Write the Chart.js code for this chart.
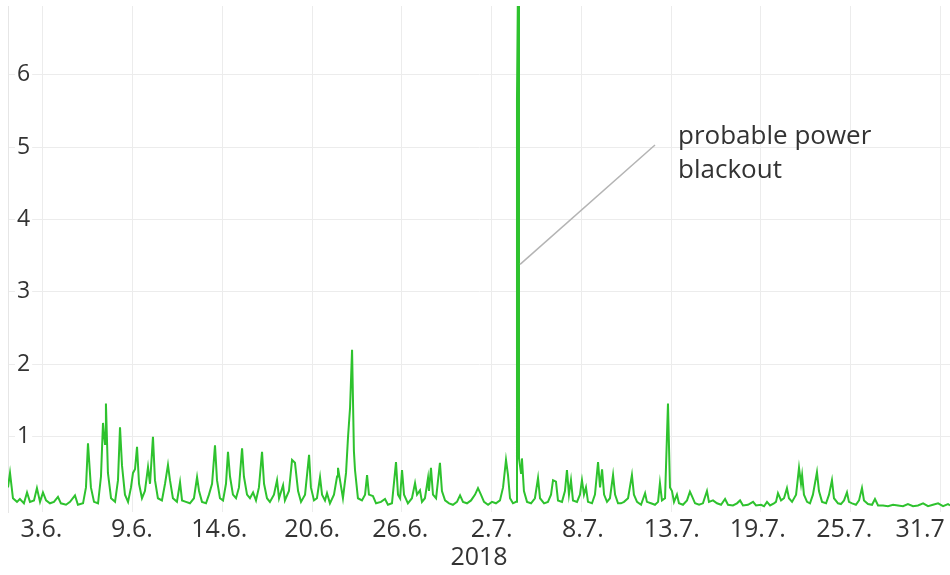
<!DOCTYPE html>
<html>
<head>
<meta charset="utf-8">
<script src="https://cdn.jsdelivr.net/npm/chart.js@4.4.1/dist/chart.umd.min.js"></script>
<style>
html,body{margin:0;padding:0;background:#ffffff;}
#wrap{width:950px;height:575px;}
</style>
</head>
<body>
<div id="wrap"><canvas id="c" width="950" height="575"></canvas></div>
<script>
// x = days since 1.6.2018 00:00, y = measured value
const days = [
  0.04,0.17,0.36,0.62,0.81,1.07,1.27,1.46,1.72,1.91,2.11,2.30,2.50,2.75,3.01,3.27,3.46,3.79,4.05,4.37,4.56,4.89,5.08,5.21,5.40,5.60,5.86,6.05,6.18,6.31,6.37,6.50,6.70,6.96,7.15,7.28,7.41,7.60,7.80,7.99,8.12,8.25,8.38,8.51,8.70,8.89,9.09,9.22,9.41,9.54,9.73,
  9.99,10.19,10.38,10.51,10.70,10.96,11.16,11.29,11.54,11.80,12.06,12.26,12.39,12.58,12.84,13.03,13.23,13.42,13.55,13.74,13.94,14.13,14.26,14.39,14.58,14.78,14.97,15.17,15.29,15.49,15.68,15.88,16.07,16.26,16.46,16.59,16.78,16.97,17.23,17.43,17.56,17.82,17.94,18.20,18.40,18.59,18.79,18.98,19.24,19.50,19.62,19.82,
  20.01,20.21,20.34,20.53,20.66,20.85,21.11,21.31,21.37,21.50,21.69,21.89,22.02,22.15,22.28,22.40,22.47,22.66,22.92,23.12,23.25,23.37,23.63,23.83,24.15,24.41,24.60,24.86,25.12,25.25,25.38,25.51,25.64,25.89,26.15,26.35,26.48,26.67,26.80,26.99,27.19,27.25,27.38,27.51,27.71,27.96,28.09,28.29,28.55,28.80,29.06,29.26,29.45,29.71,
  29.97,30.23,30.42,30.61,30.81,31.07,31.32,31.58,31.84,32.04,32.23,32.36,32.49,32.68,32.88,32.94,33.01,33.07,33.20,33.26,33.39,33.59,33.85,34.10,34.30,34.43,34.69,34.94,35.14,35.27,35.46,35.59,35.85,36.04,36.17,36.30,36.43,36.56,36.82,37.01,37.14,37.27,37.40,37.53,37.79,37.98,38.18,38.31,38.44,38.57,38.76,38.95,39.15,39.28,39.47,39.66,
  39.86,40.12,40.37,40.50,40.70,40.96,41.22,41.34,41.60,41.86,42.06,42.18,42.31,42.51,42.70,42.83,42.96,43.09,43.28,43.41,43.67,43.93,44.12,44.25,44.45,44.71,44.96,45.22,45.35,45.61,45.87,46.13,46.39,46.58,46.90,47.16,47.36,47.55,47.87,48.20,48.39,48.71,48.91,49.10,49.30,49.55,49.68,49.81,50.01,
  50.20,50.39,50.52,50.72,50.98,51.17,51.30,51.37,51.49,51.69,51.88,52.07,52.33,52.46,52.66,52.92,53.11,53.30,53.43,53.69,53.88,54.08,54.27,54.40,54.60,54.85,55.05,55.24,55.37,55.63,55.89,56.08,56.28,56.60,56.92,57.25,57.57,57.89,58.21,58.54,58.86,59.19,59.51,59.83,60.16,60.48,60.80,60.93
];
const values = [
  0.30,0.50,0.15,0.10,0.14,0.08,0.23,0.10,0.12,0.29,0.10,0.23,0.12,0.08,0.10,0.17,0.08,0.06,0.10,0.19,0.06,0.08,0.30,0.91,0.30,0.10,0.08,0.45,1.19,0.90,1.46,0.50,0.15,0.10,0.40,1.13,0.60,0.20,0.10,0.30,0.50,0.55,0.86,0.35,0.15,0.25,0.58,0.35,1.00,0.40,0.15,
  0.12,0.35,0.61,0.40,0.15,0.10,0.37,0.12,0.10,0.08,0.15,0.44,0.25,0.10,0.08,0.20,0.35,0.88,0.40,0.15,0.12,0.35,0.79,0.45,0.20,0.15,0.30,0.84,0.45,0.20,0.15,0.23,0.12,0.30,0.79,0.35,0.15,0.10,0.20,0.40,0.15,0.33,0.12,0.25,0.68,0.64,0.25,0.10,0.20,0.75,0.30,0.12,
  0.15,0.44,0.20,0.12,0.22,0.08,0.20,0.45,0.57,0.40,0.15,0.50,1.00,1.40,2.20,0.80,0.54,0.15,0.12,0.20,0.47,0.20,0.18,0.08,0.10,0.14,0.06,0.08,0.65,0.20,0.15,0.54,0.20,0.08,0.15,0.36,0.20,0.26,0.10,0.15,0.43,0.25,0.57,0.20,0.15,0.64,0.25,0.12,0.08,0.06,0.10,0.19,0.10,0.08,
  0.12,0.20,0.29,0.20,0.10,0.06,0.10,0.08,0.12,0.30,0.68,0.47,0.15,0.08,0.10,5.65,7.40,0.70,0.50,0.70,0.25,0.10,0.08,0.15,0.43,0.15,0.08,0.10,0.20,0.40,0.38,0.12,0.10,0.25,0.54,0.20,0.40,0.12,0.10,0.20,0.40,0.20,0.30,0.10,0.08,0.20,0.65,0.30,0.55,0.20,0.10,0.15,0.47,0.20,0.08,0.08,
  0.10,0.15,0.47,0.20,0.10,0.06,0.22,0.10,0.08,0.06,0.10,0.36,0.12,0.15,1.46,0.30,0.25,0.10,0.20,0.08,0.06,0.12,0.24,0.18,0.08,0.06,0.08,0.25,0.10,0.12,0.08,0.06,0.14,0.06,0.05,0.08,0.12,0.05,0.06,0.10,0.05,0.06,0.04,0.10,0.05,0.08,0.10,0.22,0.12,
  0.15,0.29,0.15,0.10,0.20,0.57,0.35,0.47,0.20,0.10,0.08,0.20,0.51,0.25,0.10,0.08,0.20,0.40,0.15,0.08,0.07,0.12,0.23,0.10,0.08,0.06,0.12,0.29,0.12,0.07,0.06,0.14,0.05,0.05,0.04,0.06,0.05,0.04,0.07,0.04,0.05,0.08,0.04,0.06,0.08,0.04,0.07,0.05
];
// axis range (days) and ticks
const xRange = [0.04, 60.93];
const yRange = [-0.04, 6.95];
const gridDays = [2.3, 8.1, 13.9, 19.7, 25.5, 31.3, 37.1, 42.9, 48.7, 54.5, 60.3];
const tickLabelDays = [2.2, 8.05, 13.7, 19.7, 25.4, 31.3, 37.2, 42.95, 48.5, 54.1, 59.0];
const tickLabels = ['3.6.', '9.6.', '14.6.', '20.6.', '26.6.', '2.7.', '8.7.', '13.7.', '19.7.', '25.7.', '31.7'];
const yTicks = [1, 2, 3, 4, 5, 6];
const axisTitle = '2018';
// annotation (in data units)
const annotText = ['probable power', 'blackout'];
const annotAnchor = [33.14, 3.38];
const annotLineEnd = [41.86, 5.03];
const annotTextAt = [43.35, 5.14];

const n = Math.min(days.length, values.length);
const points = [];
for (let i = 0; i < n; i++) points.push({x: days[i], y: values[i]});

const FONT = "'Open Sans', 'DejaVu Sans', sans-serif";
const TEXT = '#333333';
const GRID = '#ececec';

const annotationPlugin = {
  id: 'annot',
  afterDatasetsDraw(chart) {
    const xs = chart.scales.x, ys = chart.scales.y, ctx = chart.ctx;
    ctx.save();
    ctx.strokeStyle = '#b4b4b4';
    ctx.lineWidth = 1.5;
    ctx.beginPath();
    ctx.moveTo(xs.getPixelForValue(annotAnchor[0]), ys.getPixelForValue(annotAnchor[1]));
    ctx.lineTo(xs.getPixelForValue(annotLineEnd[0]), ys.getPixelForValue(annotLineEnd[1]));
    ctx.stroke();
    ctx.fillStyle = TEXT;
    ctx.font = '26px ' + FONT;
    ctx.textAlign = 'left';
    ctx.textBaseline = 'middle';
    const tx = xs.getPixelForValue(annotTextAt[0]);
    const ty = ys.getPixelForValue(annotTextAt[1]);
    annotText.forEach((t, i) => ctx.fillText(t, tx, ty + i * 34));
    ctx.restore();
  }
};

new Chart(document.getElementById('c'), {
  type: 'line',
  data: {
    datasets: [{
      data: points,
      borderColor: '#2ec22e',
      borderWidth: 2,
      pointRadius: 0,
      tension: 0,
      fill: false
    }]
  },
  options: {
    responsive: false,
    devicePixelRatio: 1,
    animation: false,
    parsing: true,
    layout: {padding: {top: 6, left: 0, right: 0, bottom: 0}},
    plugins: {legend: {display: false}, tooltip: {enabled: false}},
    scales: {
      x: {
        type: 'linear', position: 'bottom',
        min: xRange[0], max: xRange[1],
        afterBuildTicks: s => { s.ticks = gridDays.map(v => ({value: v})); },
        ticks: {display: false},
        grid: {color: GRID, lineWidth: 1, drawTicks: false},
        border: {display: false},
        afterFit: s => { s.height = 0; s.paddingLeft = 0; s.paddingRight = 0; }
      },
      xl: {
        type: 'linear', position: 'bottom',
        min: xRange[0], max: xRange[1],
        afterBuildTicks: s => { s.ticks = tickLabelDays.map(v => ({value: v})); },
        ticks: {
          callback: (v, i) => tickLabels[i],
          autoSkip: false, maxRotation: 0, minRotation: 0,
          padding: 5.5,
          color: TEXT,
          font: {family: FONT, size: 25, lineHeight: 1}
        },
        grid: {display: false, drawTicks: false},
        border: {display: false},
        title: {
          display: true, text: axisTitle, color: TEXT,
          font: {family: FONT, size: 25, lineHeight: 1},
          padding: {top: 0, bottom: 4.5}
        },
        afterFit: s => { s.height = 63; s.paddingLeft = 0; s.paddingRight = 0; }
      },
      y: {
        type: 'linear', position: 'left',
        min: yRange[0], max: yRange[1],
        afterBuildTicks: s => { s.ticks = yTicks.map(v => ({value: v})); },
        ticks: {
          mirror: true, padding: 9, color: TEXT,
          font: {family: FONT, size: 23},
          showLabelBackdrop: true, backdropColor: '#ffffff', backdropPadding: 2
        },
        grid: {color: GRID, lineWidth: 1, drawTicks: false},
        border: {display: true, color: '#e6e6e6'},
        afterFit: s => { s.width = 8; s.paddingTop = 0; s.paddingBottom = 0; }
      }
    }
  },
  plugins: [annotationPlugin]
});
</script>
</body>
</html>
